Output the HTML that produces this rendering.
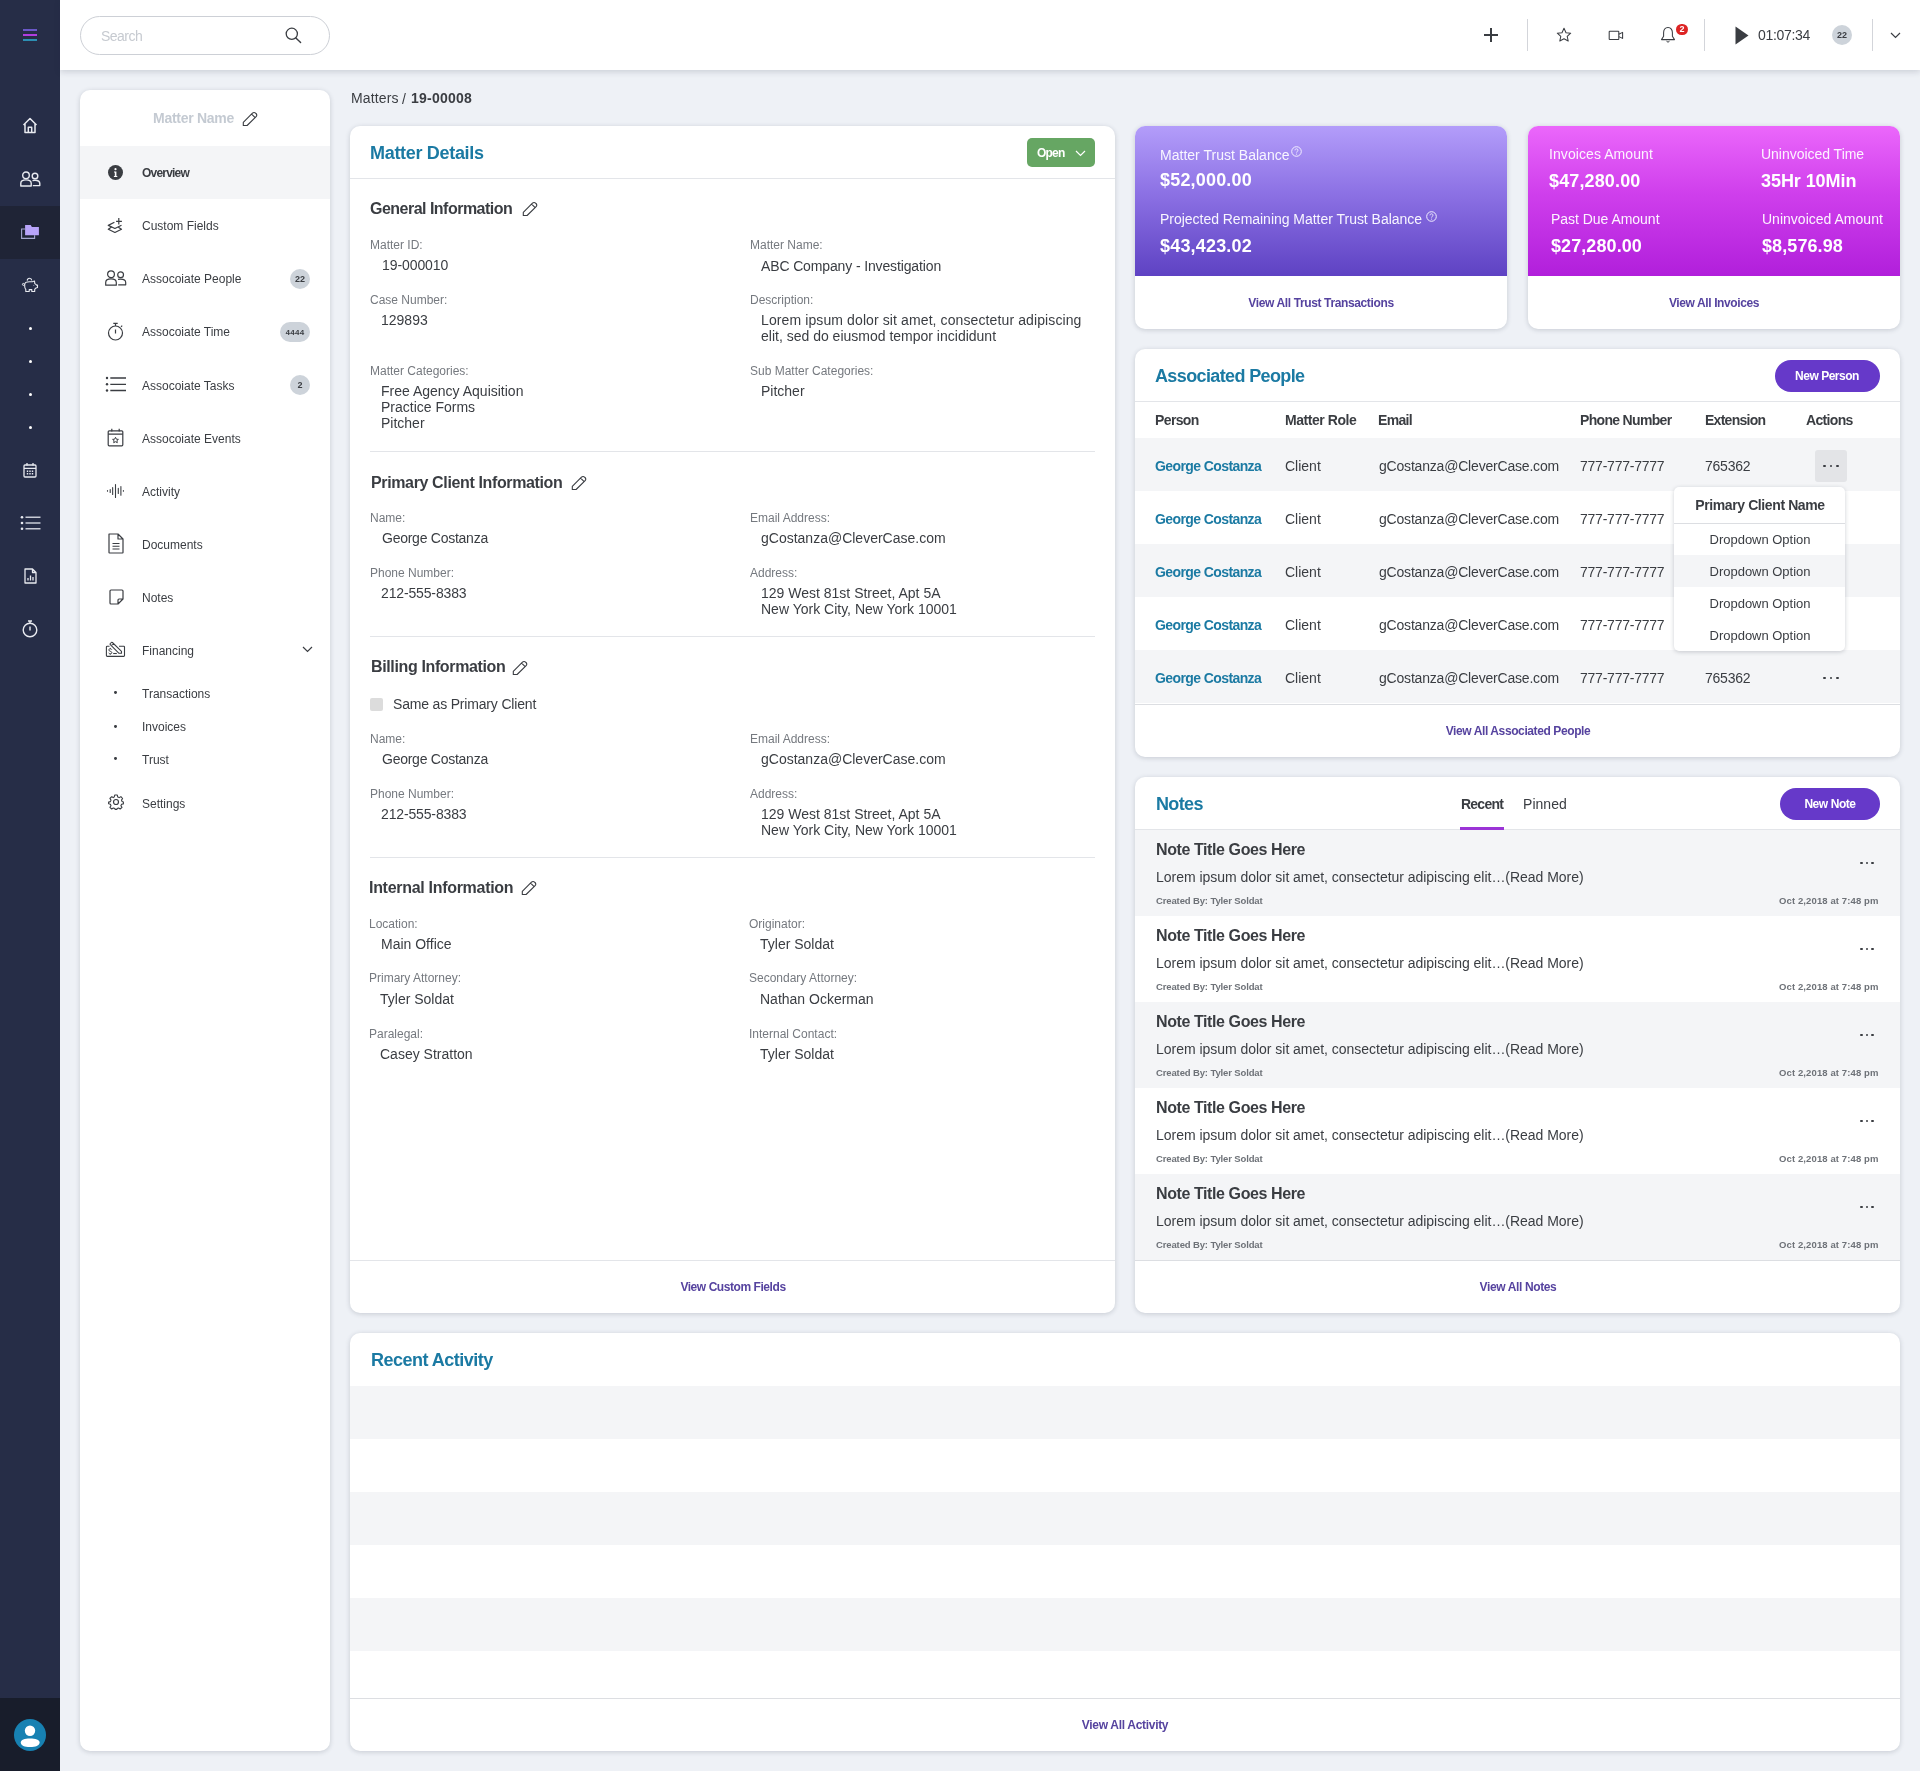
<!DOCTYPE html><html><head><meta charset="utf-8">
<style>
*{box-sizing:border-box;margin:0;padding:0}
html,body{width:1920px;height:1771px;overflow:hidden;background:#eef1f6;font-family:"Liberation Sans",sans-serif;color:#3a3d42}
.abs{position:absolute}
.card{position:absolute;background:#fff;border-radius:10px;box-shadow:0 1px 5px rgba(40,50,70,.2)}
.t{position:absolute;white-space:nowrap;line-height:1;will-change:transform}
body{-webkit-font-smoothing:antialiased}
</style></head><body>
<div class="abs" style="left:0px;top:0px;width:60px;height:1771px;background:#262d47;"></div>
<div class="abs" style="left:0px;top:206px;width:60px;height:53px;background:#1f2436;"></div>
<div class="abs" style="left:0px;top:1698px;width:60px;height:73px;background:#181d2b;"></div>
<div class="abs" style="left:23px;top:29px;width:14px;height:2px;background:#6a58c8;"></div>
<div class="abs" style="left:23px;top:34px;width:14px;height:2px;background:#b03ee0;"></div>
<div class="abs" style="left:23px;top:39px;width:14px;height:2px;background:#2c8fb3;"></div>
<svg class="abs" style="left:22px;top:117px;" width="16" height="17" viewBox="0 0 16 17" fill="none"><path d="M1.5 8 L8 1.5 L14.5 8 M3 6.8 V15.5 H13 V6.8 M6.3 15.5 V10.3 H9.7 V15.5" stroke="#e8eaf0" stroke-width="1.5" stroke-linejoin="round"></path></svg>
<svg class="abs" style="left:20px;top:171px;" width="21" height="16" viewBox="0 0 21 16" fill="none"><circle cx="6" cy="4.3" r="3.3" stroke="#e8eaf0" stroke-width="1.4"></circle><path d="M0.8 15 V12.3 C0.8 10.2 2.6 8.9 6 8.9 C9.4 8.9 11.2 10.2 11.2 12.3 V15 Z" stroke="#e8eaf0" stroke-width="1.4" stroke-linejoin="round"></path><circle cx="15" cy="5" r="2.8" stroke="#e8eaf0" stroke-width="1.4"></circle><path d="M12.5 9.6 C13.2 9.4 14 9.3 15 9.3 C18 9.3 19.8 10.4 19.8 12.5 V14.6 H12.8" stroke="#e8eaf0" stroke-width="1.4" stroke-linejoin="round"></path></svg>
<svg class="abs" style="left:20px;top:224px;" width="20" height="16" viewBox="0 0 20 16" fill="none"><path d="M5.1 5 H1.6 V14.4 H14.6 V11.2" stroke="#a3a6d0" stroke-width="1.1"></path><path d="M5.1 1.3 C5.1 1.2 5.2 1.1 5.3 1.1 H10.7 L11.9 3.1 H18.7 C18.8 3.1 18.9 3.2 18.9 3.3 V11 C18.9 11.1 18.8 11.2 18.7 11.2 H5.3 C5.2 11.2 5.1 11.1 5.1 11 Z" fill="#b8a4fa"></path></svg>
<svg class="abs" style="left:15px;top:270px;" width="30" height="30" viewBox="0 0 30 30" fill="none"><path d="M9.7 14.6 C9.7 12.9 11.6 11.7 14.5 11.7 H17.3 L19.5 11 L19.8 13.6 C20.6 14.1 21.2 14.6 21.6 15.1 H22.5 V17.5 L20.5 18.3 L19.7 19.3 V21.5 H16.8 V19.6 H14.2 V21.5 H10.8 V19.4 C10 18.6 9.7 17.6 9.7 16.2 Z" stroke="#e8eaf0" stroke-width="1.1" stroke-linejoin="round"></path><circle cx="8.4" cy="14.4" r="1" stroke="#e8eaf0" stroke-width="1"></circle><path d="M12.2 10.6 C12.4 9 13.4 8.3 14.5 8.3 C15.6 8.3 16.6 9 16.8 10.4" stroke="#e8eaf0" stroke-width="1.1"></path><path d="M18.2 15.4 H19.3" stroke="#9aa0b8" stroke-width="0.9"></path></svg>
<div class="abs" style="left:28.5px;top:327.0px;width:3px;height:3px;border-radius:50%;background:#fff"></div>
<div class="abs" style="left:28.5px;top:360.0px;width:3px;height:3px;border-radius:50%;background:#fff"></div>
<div class="abs" style="left:28.5px;top:393.0px;width:3px;height:3px;border-radius:50%;background:#fff"></div>
<div class="abs" style="left:28.5px;top:426.0px;width:3px;height:3px;border-radius:50%;background:#fff"></div>
<svg class="abs" style="left:23px;top:462px;" width="14" height="16" viewBox="0 0 14 16" fill="none"><rect x="1" y="3" width="12" height="12" rx="1" stroke="#e8eaf0" stroke-width="1.3"></rect><path d="M1 6.3 H13 M4 1 V3.5 M10 1 V3.5" stroke="#e8eaf0" stroke-width="1.3"></path><path d="M3.8 8.5h1.4v1.4H3.8zM6.3 8.5h1.4v1.4H6.3zM8.8 8.5h1.4v1.4H8.8zM3.8 11h1.4v1.4H3.8zM6.3 11h1.4v1.4H6.3zM8.8 11h1.4v1.4H8.8z" fill="#e8eaf0"></path></svg>
<svg class="abs" style="left:20px;top:515px;" width="21" height="16" viewBox="0 0 21 16" fill="none"><circle cx="2" cy="2.2" r="1.3" fill="#e8eaf0"></circle><circle cx="2" cy="8" r="1.3" fill="#e8eaf0"></circle><circle cx="2" cy="13.8" r="1.3" fill="#e8eaf0"></circle><path d="M5.5 2.2 H20.5 M5.5 8 H20.5 M5.5 13.8 H20.5" stroke="#c8cbd6" stroke-width="1.5"></path></svg>
<svg class="abs" style="left:24px;top:568px;" width="13" height="16" viewBox="0 0 13 16" fill="none"><path d="M1 1 H8.5 L12 4.5 V15 H1 Z M8.5 1 V4.5 H12" stroke="#e8eaf0" stroke-width="1.3" stroke-linejoin="round"></path><path d="M4 12.5 V10 M6.5 12.5 V7.5 M9 12.5 V9" stroke="#e8eaf0" stroke-width="1.3"></path></svg>
<svg class="abs" style="left:22px;top:620px;" width="16" height="18" viewBox="0 0 16 18" fill="none"><circle cx="8" cy="10" r="6.8" stroke="#e8eaf0" stroke-width="1.4"></circle><path d="M8 6.5 V10.5 M6 1 H10 M8 1 V3.2" stroke="#e8eaf0" stroke-width="1.4"></path></svg>
<div class="abs" style="left:14px;top:1719px;width:32px;height:32px;border-radius:50%;background:#1781b2"></div>
<svg class="abs" style="left:14px;top:1719px;" width="32" height="32" viewBox="0 0 32 32" fill="none"><circle cx="16" cy="11.8" r="5.2" fill="#fff"></circle><path d="M6.8 23.5 C6.8 20.8 10.5 19.6 16 19.6 C21.5 19.6 25.6 20.8 25.6 23.5 C25.6 26.6 21.5 28 16 28 C10.5 28 6.8 26.6 6.8 23.5 Z" fill="#fff"></path></svg>
<div class="abs" style="left:60px;top:0;width:1860px;height:70px;background:#fff;box-shadow:0 2px 6px rgba(30,40,60,.16)"></div>
<div class="abs" style="left:80px;top:16px;width:250px;height:39px;border:1px solid #cdd0d6;border-radius:20px;background:#fff"></div>
<div class="t" style="top: 29.15px; font-size: 14px; color: rgb(198, 202, 208); left: 101px; letter-spacing: -0.514px;">Search</div>
<svg class="abs" style="left:285px;top:27px;" width="17" height="17" viewBox="0 0 17 17" fill="none"><circle cx="6.8" cy="6.8" r="5.6" stroke="#3a3d42" stroke-width="1.3"></circle><path d="M10.9 10.9 L15.6 15.6" stroke="#3a3d42" stroke-width="1.4" stroke-linecap="round"></path></svg>
<svg class="abs" style="left:1483px;top:27px;" width="16" height="16" viewBox="0 0 16 16" fill="none"><path d="M8 1 V15 M1 8 H15" stroke="#3a3d42" stroke-width="2"></path></svg>
<div class="abs" style="left:1527px;top:19px;width:1px;height:32px;background:#d3d5da;"></div>
<svg class="abs" style="left:1556px;top:27px;" width="16" height="16" viewBox="0 0 16 16" fill="none"><path d="M8 1.3 L10 5.7 L14.7 6.2 L11.2 9.4 L12.2 14 L8 11.7 L3.8 14 L4.8 9.4 L1.3 6.2 L6 5.7 Z" stroke="#3a3d42" stroke-width="1.05" stroke-linejoin="round"></path></svg>
<svg class="abs" style="left:1608px;top:30px;" width="16" height="11" viewBox="0 0 16 11" fill="none"><rect x="1.2" y="1.2" width="9.6" height="8.3" rx="0.6" stroke="#3a3d42" stroke-width="1.05"></rect><path d="M10.8 4.2 L14.6 2.4 V8.4 L10.8 6.6" stroke="#3a3d42" stroke-width="1.05" stroke-linejoin="round"></path></svg>
<svg class="abs" style="left:1660px;top:26px;" width="16" height="18" viewBox="0 0 16 18" fill="none"><path d="M8 1.5 C5 1.5 3.6 4 3.6 6.8 V10.3 L1.5 13.6 H14.5 L12.4 10.3 V6.8 C12.4 4 11 1.5 8 1.5 Z" stroke="#3a3d42" stroke-width="1.05" stroke-linejoin="round"></path><path d="M6.5 15.2 L8 16.2 L9.5 15.2" stroke="#3a3d42" stroke-width="1"></path></svg>
<div class="abs" style="left:1676px;top:24px;width:12px;height:11px;border-radius:6px;background:#dd2424"></div>
<div class="t" style="top:25.38px;font-size:9px;color:#fff;font-weight:700;left:1682px;transform:translateX(-50%);">2</div>
<div class="abs" style="left:1704px;top:19px;width:1px;height:32px;background:#d3d5da;"></div>
<svg class="abs" style="left:1735px;top:26px;" width="14" height="19" viewBox="0 0 14 19" fill="none"><path d="M0.5 0.5 L13.5 9.5 L0.5 18.5 Z" fill="#3a3d42"></path></svg>
<div class="t" style="top: 28.15px; font-size: 14px; color: rgb(58, 61, 66); left: 1758px; letter-spacing: -0.316px;">01:07:34</div>
<div class="abs" style="left:1832px;top:25px;width:20px;height:20px;border-radius:50%;background:#cdd3da"></div>
<div class="t" style="top:30.88px;font-size:9px;color:#3a3d42;font-weight:700;left:1842px;transform:translateX(-50%);">22</div>
<div class="abs" style="left:1872px;top:19px;width:1px;height:32px;background:#d3d5da;"></div>
<svg class="abs" style="left:1890px;top:32px;" width="11" height="7" viewBox="0 0 11 7" fill="none"><path d="M1 1 L5.5 5.5 L10 1" stroke="#3a3d42" stroke-width="1.2"></path></svg>
<div class="card" style="left:80px;top:90px;width:250px;height:1661px"></div>
<div class="t" style="top: 111.15px; font-size: 14px; color: rgb(196, 202, 210); font-weight: 700; left: 153px; letter-spacing: -0.274px;">Matter Name</div>
<svg class="abs" style="left:242px;top:110.5px;" width="16" height="16" viewBox="0 0 16 16" fill="none"><path d="M1.3 14.5 V11.3 L10.2 2.4 Q12 0.6 13.8 2.3 L14 2.5 Q15.6 4.2 13.9 5.8 L5.1 14.5 Z M9.6 3.1 L12.9 6.4" stroke="#3a3d42" stroke-width="1.1" stroke-linejoin="round"></path></svg>
<div class="abs" style="left:80px;top:146px;width:250px;height:53px;background:#f4f5f7;"></div>
<div class="abs" style="left:107.5px;top:165px;width:15px;height:15px;border-radius:50%;background:#3a3d42"></div>
<svg class="abs" style="left:107.5px;top:165px;" width="15" height="15" viewBox="0 0 15 15" fill="none"><circle cx="7.5" cy="4.2" r="1.1" fill="#fff"></circle><path d="M6 6.6 H8.4 V11 H9.3 V12 H5.9 V11 H6.8 V7.6 H6 Z" fill="#fff"></path></svg>
<div class="t" style="top: 166.84px; font-size: 12px; color: rgb(58, 61, 66); font-weight: 700; left: 142px; letter-spacing: -0.79px;">Overview</div>
<div class="t" style="top:219.84px;font-size:12px;color:#3a3d42;left:142px;">Custom Fields</div>
<div class="t" style="top:272.84px;font-size:12px;color:#3a3d42;left:142px;">Assocoiate People</div>
<div class="t" style="top:326.24px;font-size:12px;color:#3a3d42;left:142px;">Assocoiate Time</div>
<div class="t" style="top:379.64px;font-size:12px;color:#3a3d42;left:142px;">Assocoiate Tasks</div>
<div class="t" style="top:432.84px;font-size:12px;color:#3a3d42;left:142px;">Assocoiate Events</div>
<div class="t" style="top:486.24px;font-size:12px;color:#3a3d42;left:142px;">Activity</div>
<div class="t" style="top:538.74px;font-size:12px;color:#3a3d42;left:142px;">Documents</div>
<div class="t" style="top:592.14px;font-size:12px;color:#3a3d42;left:142px;">Notes</div>
<div class="t" style="top:645.24px;font-size:12px;color:#3a3d42;left:142px;">Financing</div>
<div class="t" style="top:797.74px;font-size:12px;color:#3a3d42;left:142px;">Settings</div>
<div class="t" style="top:687.84px;font-size:12px;color:#3a3d42;left:142px;">Transactions</div>
<div class="abs" style="left:114.3px;top:691.3px;width:2.8px;height:2.8px;border-radius:50%;background:#3a3d42"></div>
<div class="t" style="top:721.34px;font-size:12px;color:#3a3d42;left:142px;">Invoices</div>
<div class="abs" style="left:114.3px;top:724.8px;width:2.8px;height:2.8px;border-radius:50%;background:#3a3d42"></div>
<div class="t" style="top:753.84px;font-size:12px;color:#3a3d42;left:142px;">Trust</div>
<div class="abs" style="left:114.3px;top:757.3px;width:2.8px;height:2.8px;border-radius:50%;background:#3a3d42"></div>
<svg class="abs" style="left:100px;top:210px;" width="30" height="30" viewBox="0 0 30 30" fill="none"><path d="M14.4 12.2 L8.3 15.4 L14.9 18.5 L21.5 15.3" stroke="#3a3d42" stroke-width="1.2" stroke-linejoin="round"></path><path d="M11.6 16.9 L8.3 19.3 L14.9 22.5 L21.5 19.3 L18.3 17.3" stroke="#3a3d42" stroke-width="1.2" stroke-linejoin="round"></path><path d="M18.8 8.1 V14.4 M16.1 11.4 H21.9" stroke="#3a3d42" stroke-width="1.2" stroke-linejoin="round"></path></svg>
<svg class="abs" style="left:105px;top:270.3px;" width="22" height="16" viewBox="0 0 22 16" fill="none"><circle cx="6" cy="4.2" r="3.4" stroke="#3a3d42" stroke-width="1.2"></circle><path d="M0.7 15.2 V12.4 C0.7 10.2 2.6 8.8 6 8.8 C9.4 8.8 11.3 10.2 11.3 12.4 V15.2 Z" stroke="#3a3d42" stroke-width="1.2" stroke-linejoin="round"></path><circle cx="15.6" cy="4.8" r="2.9" stroke="#3a3d42" stroke-width="1.2"></circle><path d="M13 9.4 C13.8 9.2 14.6 9.1 15.6 9.1 C18.8 9.1 20.7 10.3 20.7 12.4 V14.8 H13.2" stroke="#3a3d42" stroke-width="1.2" stroke-linejoin="round"></path></svg>
<svg class="abs" style="left:107px;top:322px;" width="17" height="19" viewBox="0 0 17 19" fill="none"><circle cx="8.5" cy="11" r="7" stroke="#3a3d42" stroke-width="1.2"></circle><path d="M8.5 7.5 V11.5 M6.3 1.3 H10.7 M8.5 1.3 V4 M14 4.8 L15.2 3.6" stroke="#3a3d42" stroke-width="1.2"></path></svg>
<svg class="abs" style="left:105px;top:376px;" width="22" height="17" viewBox="0 0 22 17" fill="none"><circle cx="2" cy="2" r="1.2" fill="#3a3d42"></circle><circle cx="2" cy="8.3" r="1.2" fill="#3a3d42"></circle><circle cx="2" cy="14.5" r="1.2" fill="#3a3d42"></circle><path d="M5.3 2 H21 M5.3 8.3 H21 M5.3 14.5 H21" stroke="#3a3d42" stroke-width="1.3"></path></svg>
<svg class="abs" style="left:107px;top:428px;" width="17" height="19" viewBox="0 0 17 19" fill="none"><rect x="1.2" y="2.8" width="14.6" height="15" rx="1" stroke="#3a3d42" stroke-width="1.2"></rect><path d="M1.2 6.2 H15.8 M4.8 0.8 V3.5 M12.2 0.8 V3.5" stroke="#3a3d42" stroke-width="1.2"></path><path d="M8.5 9.3 L9.4 11.2 L11.4 11.4 L9.9 12.7 L10.3 14.7 L8.5 13.7 L6.7 14.7 L7.1 12.7 L5.6 11.4 L7.6 11.2 Z" stroke="#3a3d42" stroke-width="1" stroke-linejoin="round"></path></svg>
<svg class="abs" style="left:100px;top:478px;" width="30" height="25" viewBox="0 0 30 25" fill="none"><path d="M7.5 12.5 V13.3 M10.2 11.6 V14.4 M12.65 9.5 V16.5 M15.5 6.6 V19.4 M18.3 10.4 V15.4 M20.9 8.5 V17.3 M23.4 12.5 V13.3" stroke="#3a3d42" stroke-width="1.1" stroke-linecap="round"></path></svg>
<svg class="abs" style="left:107.5px;top:533px;" width="16" height="21" viewBox="0 0 16 21" fill="none"><path d="M1 1 H10 L15 6 V19.5 C15 19.8 14.8 20 14.5 20 H1.5 C1.2 20 1 19.8 1 19.5 Z M10 1 V6 H15" stroke="#3a3d42" stroke-width="1.2" stroke-linejoin="round"></path><path d="M4.5 10.5 H11.5 M4.5 13.3 H11.5 M4.5 16 H11.5" stroke="#3a3d42" stroke-width="1.1"></path></svg>
<svg class="abs" style="left:108.5px;top:589px;" width="15" height="16" viewBox="0 0 15 16" fill="none"><path d="M1 2 C1 1.4 1.4 1 2 1 H13 C13.6 1 14 1.4 14 2 V10 L9 15 H2 C1.4 15 1 14.6 1 14 Z M14 10 H10 C9.4 10 9 10.4 9 11 V15" stroke="#3a3d42" stroke-width="1.2" stroke-linejoin="round"></path></svg>
<svg class="abs" style="left:100px;top:635px;" width="30" height="30" viewBox="0 0 30 30" fill="none"><path d="M9.5 11.3 H7.2 C6.7 11.3 6.4 11.6 6.4 12.1 V20.6 C6.4 21.1 6.7 21.4 7.2 21.4 H23.7 C24.2 21.4 24.5 21.1 24.5 20.6 V12.1 C24.5 11.6 24.2 11.3 23.7 11.3 H19" stroke="#3a3d42" stroke-width="1.1"></path><path d="M12.4 7.5 L21.5 16.4 V18.3 H19 L10.3 9.7 C9.9 9.3 9.9 8.9 10.3 8.5 L11.2 7.6 C11.5 7.2 12 7.2 12.4 7.5 Z M11 10.6 L13.9 8.9" stroke="#3a3d42" stroke-width="1.05" stroke-linejoin="round"></path><path d="M11.7 14.6 C11.5 14 11 13.8 10.3 13.8 C9.4 13.8 8.8 14.3 8.8 15 C8.8 16.6 11.9 16 11.9 17.7 C11.9 18.4 11.2 18.8 10.3 18.8 C9.5 18.8 9 18.5 8.7 18 M10.3 12.9 V13.8 M10.3 18.8 V19.6" stroke="#3a3d42" stroke-width="1"></path><path d="M13.2 18.5 H16.8" stroke="#3a3d42" stroke-width="1.1"></path></svg>
<svg class="abs" style="left:302px;top:646px;" width="11" height="7" viewBox="0 0 11 7" fill="none"><path d="M1 1 L5.5 5.5 L10 1" stroke="#3a3d42" stroke-width="1.2"></path></svg>
<svg class="abs" style="left:108px;top:794px;" width="16" height="16" viewBox="0 0 16 16" fill="none"><circle cx="8" cy="8" r="2.5" stroke="#3a3d42" stroke-width="1.2"></circle><path d="M6.7 1 H9.3 L9.7 2.9 L11.2 3.6 L12.9 2.6 L14.6 4.5 L13.5 6.1 L14.1 7.6 L15.4 8.1 V9.9 L13.6 10.2 L12.9 11.8 L14 13.4 L12.2 15 L10.6 14 L9.2 14.6 L8.8 15.4 H7.2 L6.8 14.6 L5.3 14 L3.7 15 L1.9 13.3 L3 11.7 L2.4 10.2 L0.6 9.8 V8.1 L2.4 7.6 L3 6.1 L1.9 4.5 L3.7 2.7 L5.3 3.6 L6.3 2.9 Z" stroke="#3a3d42" stroke-width="1.1" stroke-linejoin="round"></path></svg>
<div class="abs" style="left:290px;top:269px;width:20px;height:20px;border-radius:50%;background:#cdd3da"></div>
<div class="t" style="top:274.88px;font-size:9px;color:#3a3d42;font-weight:700;left:300px;transform:translateX(-50%);">22</div>
<div class="abs" style="left:280px;top:322px;width:30px;height:20px;border-radius:10px;background:#cdd3da"></div>
<div class="t" style="top: 328.73px; font-size: 8px; color: rgb(58, 61, 66); font-weight: 700; left: 295px; transform: translateX(-50%); letter-spacing: 0.351px;">4444</div>
<div class="abs" style="left:290px;top:375px;width:20px;height:20px;border-radius:50%;background:#cdd3da"></div>
<div class="t" style="top:380.88px;font-size:9px;color:#3a3d42;font-weight:700;left:300px;transform:translateX(-50%);">2</div>
<div class="t" style="top: 91.15px; font-size: 14px; color: rgb(58, 61, 66); left: 350.8px; letter-spacing: 0.137px;">Matters</div>
<div class="t" style="top:91.95px;font-size:14px;color:#3a3d42;left:401.8px;">/</div>

<div class="t" style="top: 91.15px; font-size: 14px; color: rgb(58, 61, 66); font-weight: 700; left: 411px; letter-spacing: 0.232px;">19-00008</div>
<div class="card" style="left:350px;top:126px;width:765px;height:1187px"></div>
<div class="t" style="top: 144.16px; font-size: 18px; color: rgb(27, 122, 163); font-weight: 700; left: 370px; letter-spacing: -0.31px;">Matter Details</div>
<div class="abs" style="left:350px;top:178px;width:765px;height:1px;background:#e3e5e9;"></div>
<div class="abs" style="left:1027px;top:138px;width:68px;height:29px;border-radius:5px;background:#66a663"></div>
<div class="t" style="top: 147.04px; font-size: 12px; color: rgb(255, 255, 255); font-weight: 700; left: 1037px; letter-spacing: -0.779px;">Open</div>
<svg class="abs" style="left:1075px;top:150px;" width="11" height="7" viewBox="0 0 11 7" fill="none"><path d="M1 1 L5.5 5.5 L10 1" stroke="#fff" stroke-width="1.2"></path></svg>
<div class="t" style="top: 201.16px; font-size: 16px; color: rgb(58, 61, 66); font-weight: 700; left: 370px; letter-spacing: -0.514px;">General Information</div>
<svg class="abs" style="left:522px;top:200.5px;" width="16" height="16" viewBox="0 0 16 16" fill="none"><path d="M1.3 14.5 V11.3 L10.2 2.4 Q12 0.6 13.8 2.3 L14 2.5 Q15.6 4.2 13.9 5.8 L5.1 14.5 Z M9.6 3.1 L12.9 6.4" stroke="#3a3d42" stroke-width="1.1" stroke-linejoin="round"></path></svg>
<div class="t" style="top:239.34px;font-size:12px;color:#75797f;left:370px;">Matter ID:</div>
<div class="t" style="top: 258.45px; font-size: 14px; color: rgb(58, 61, 66); left: 382px; letter-spacing: -0.083px;">19-000010</div>
<div class="t" style="top:293.84px;font-size:12px;color:#75797f;left:370px;">Case Number:</div>
<div class="t" style="top:313.15px;font-size:14px;color:#3a3d42;left:381px;">129893</div>
<div class="t" style="top:365.34px;font-size:12px;color:#75797f;left:370px;">Matter Categories:</div>
<div class="t" style="top:384.15px;font-size:14px;color:#3a3d42;left:381px;">Free Agency Aquisition</div>
<div class="t" style="top:400.15px;font-size:14px;color:#3a3d42;left:381px;">Practice Forms</div>
<div class="t" style="top:415.75px;font-size:14px;color:#3a3d42;left:381px;">Pitcher</div>
<div class="t" style="top:239.34px;font-size:12px;color:#75797f;left:750px;">Matter Name:</div>
<div class="t" style="top: 259.05px; font-size: 14px; color: rgb(58, 61, 66); left: 761px; letter-spacing: -0.133px;">ABC Company - Investigation</div>
<div class="t" style="top:294.44px;font-size:12px;color:#75797f;left:750px;">Description:</div>
<div class="t" style="top: 313.45px; font-size: 14px; color: rgb(58, 61, 66); left: 761px; letter-spacing: 0.107px;">Lorem ipsum dolor sit amet, consectetur adipiscing</div>
<div class="t" style="top:328.95px;font-size:14px;color:#3a3d42;left:761px;">elit, sed do eiusmod tempor incididunt</div>
<div class="t" style="top:365.24px;font-size:12px;color:#75797f;left:750px;">Sub Matter Categories:</div>
<div class="t" style="top:383.95px;font-size:14px;color:#3a3d42;left:761px;">Pitcher</div>
<div class="abs" style="left:370px;top:451px;width:725px;height:1px;background:#e3e5e9;"></div>
<div class="t" style="top: 474.56px; font-size: 16px; color: rgb(58, 61, 66); font-weight: 700; left: 370.8px; letter-spacing: -0.366px;">Primary Client Information</div>
<svg class="abs" style="left:570.5px;top:475px;" width="16" height="16" viewBox="0 0 16 16" fill="none"><path d="M1.3 14.5 V11.3 L10.2 2.4 Q12 0.6 13.8 2.3 L14 2.5 Q15.6 4.2 13.9 5.8 L5.1 14.5 Z M9.6 3.1 L12.9 6.4" stroke="#3a3d42" stroke-width="1.1" stroke-linejoin="round"></path></svg>
<div class="t" style="top:512.14px;font-size:12px;color:#75797f;left:370px;">Name:</div>
<div class="t" style="top: 531.15px; font-size: 14px; color: rgb(58, 61, 66); left: 382px; letter-spacing: -0.253px;">George Costanza</div>
<div class="t" style="top:567.14px;font-size:12px;color:#75797f;left:370px;">Phone Number:</div>
<div class="t" style="top: 585.75px; font-size: 14px; color: rgb(58, 61, 66); left: 381px; letter-spacing: -0.145px;">212-555-8383</div>
<div class="t" style="top:512.14px;font-size:12px;color:#75797f;left:750px;">Email Address:</div>
<div class="t" style="top:531.15px;font-size:14px;color:#3a3d42;left:761px;">gCostanza@CleverCase.com</div>
<div class="t" style="top:567.14px;font-size:12px;color:#75797f;left:750px;">Address:</div>
<div class="t" style="top:585.75px;font-size:14px;color:#3a3d42;left:761px;">129 West 81st Street, Apt 5A</div>
<div class="t" style="top:601.75px;font-size:14px;color:#3a3d42;left:761px;">New York City, New York 10001</div>
<div class="abs" style="left:370px;top:636px;width:725px;height:1px;background:#e3e5e9;"></div>
<div class="t" style="top: 658.76px; font-size: 16px; color: rgb(58, 61, 66); font-weight: 700; left: 370.5px; letter-spacing: -0.364px;">Billing Information</div>
<svg class="abs" style="left:512px;top:659.5px;" width="16" height="16" viewBox="0 0 16 16" fill="none"><path d="M1.3 14.5 V11.3 L10.2 2.4 Q12 0.6 13.8 2.3 L14 2.5 Q15.6 4.2 13.9 5.8 L5.1 14.5 Z M9.6 3.1 L12.9 6.4" stroke="#3a3d42" stroke-width="1.1" stroke-linejoin="round"></path></svg>
<div class="abs" style="left:370px;top:698px;width:13px;height:13px;border-radius:2px;background:#dcdcdc"></div>
<div class="t" style="top: 697.15px; font-size: 14px; color: rgb(58, 61, 66); left: 393.3px; letter-spacing: -0.179px;">Same as Primary Client</div>
<div class="t" style="top:732.84px;font-size:12px;color:#75797f;left:370px;">Name:</div>
<div class="t" style="top: 752.15px; font-size: 14px; color: rgb(58, 61, 66); left: 382px; letter-spacing: -0.253px;">George Costanza</div>
<div class="t" style="top:787.74px;font-size:12px;color:#75797f;left:370px;">Phone Number:</div>
<div class="t" style="top: 806.65px; font-size: 14px; color: rgb(58, 61, 66); left: 381px; letter-spacing: -0.145px;">212-555-8383</div>
<div class="t" style="top:732.84px;font-size:12px;color:#75797f;left:750px;">Email Address:</div>
<div class="t" style="top:752.15px;font-size:14px;color:#3a3d42;left:761px;">gCostanza@CleverCase.com</div>
<div class="t" style="top:787.74px;font-size:12px;color:#75797f;left:750px;">Address:</div>
<div class="t" style="top:806.65px;font-size:14px;color:#3a3d42;left:761px;">129 West 81st Street, Apt 5A</div>
<div class="t" style="top:822.65px;font-size:14px;color:#3a3d42;left:761px;">New York City, New York 10001</div>
<div class="abs" style="left:370px;top:857px;width:725px;height:1px;background:#e3e5e9;"></div>
<div class="t" style="top: 880.16px; font-size: 16px; color: rgb(58, 61, 66); font-weight: 700; left: 369px; letter-spacing: -0.298px;">Internal Information</div>
<svg class="abs" style="left:521px;top:879.5px;" width="16" height="16" viewBox="0 0 16 16" fill="none"><path d="M1.3 14.5 V11.3 L10.2 2.4 Q12 0.6 13.8 2.3 L14 2.5 Q15.6 4.2 13.9 5.8 L5.1 14.5 Z M9.6 3.1 L12.9 6.4" stroke="#3a3d42" stroke-width="1.1" stroke-linejoin="round"></path></svg>
<div class="t" style="top:917.84px;font-size:12px;color:#75797f;left:369px;">Location:</div>
<div class="t" style="top:936.65px;font-size:14px;color:#3a3d42;left:381px;">Main Office</div>
<div class="t" style="top:972.44px;font-size:12px;color:#75797f;left:369px;">Primary Attorney:</div>
<div class="t" style="top:992.15px;font-size:14px;color:#3a3d42;left:380px;">Tyler Soldat</div>
<div class="t" style="top:1027.64px;font-size:12px;color:#75797f;left:369px;">Paralegal:</div>
<div class="t" style="top:1046.95px;font-size:14px;color:#3a3d42;left:380px;">Casey Stratton</div>
<div class="t" style="top:917.84px;font-size:12px;color:#75797f;left:749px;">Originator:</div>
<div class="t" style="top:936.65px;font-size:14px;color:#3a3d42;left:760px;">Tyler Soldat</div>
<div class="t" style="top:972.44px;font-size:12px;color:#75797f;left:749px;">Secondary Attorney:</div>
<div class="t" style="top:992.15px;font-size:14px;color:#3a3d42;left:760px;">Nathan Ockerman</div>
<div class="t" style="top:1027.64px;font-size:12px;color:#75797f;left:749px;">Internal Contact:</div>
<div class="t" style="top:1046.95px;font-size:14px;color:#3a3d42;left:760px;">Tyler Soldat</div>
<div class="abs" style="left:350px;top:1260px;width:765px;height:1px;background:#e3e5e9;"></div>
<div class="t" style="top: 1280.74px; font-size: 12px; color: rgb(86, 67, 159); font-weight: 700; left: 732.6px; transform: translateX(-50%); letter-spacing: -0.439px;">View Custom Fields</div>
<div class="card" style="left:1135px;top:126px;width:372px;height:203px;overflow:hidden"><div class="abs" style="left:0;top:0;width:372px;height:150px;background:linear-gradient(180deg,#b39dfa 0%,#8c71e4 45%,#5e42c3 100%)"></div></div>
<div class="t" style="top: 147.55px; font-size: 14px; color: rgb(248, 246, 255); left: 1160px; letter-spacing: 0.019px;">Matter Trust Balance</div>
<svg class="abs" style="left:1291px;top:146px;" width="11" height="11" viewBox="0 0 11 11" fill="none"><circle cx="5.5" cy="5.5" r="4.8" stroke="#f3efff" stroke-width="1"></circle><path d="M4 4.3 C4 3.4 4.7 2.8 5.5 2.8 C6.3 2.8 7 3.4 7 4.2 C7 5.3 5.6 5.4 5.6 6.6" stroke="#f3efff" stroke-width="0.9" fill="none"></path><circle cx="5.6" cy="8.1" r="0.55" fill="#f3efff"></circle></svg>
<div class="t" style="top: 171.26px; font-size: 18px; color: rgb(255, 255, 255); font-weight: 700; left: 1160px; letter-spacing: 0.18px;">$52,000.00</div>
<div class="t" style="top: 212.15px; font-size: 14px; color: rgb(248, 246, 255); left: 1160px; letter-spacing: -0.025px;">Projected Remaining Matter Trust Balance</div>
<svg class="abs" style="left:1426px;top:211px;" width="11" height="11" viewBox="0 0 11 11" fill="none"><circle cx="5.5" cy="5.5" r="4.8" stroke="#f3efff" stroke-width="1"></circle><path d="M4 4.3 C4 3.4 4.7 2.8 5.5 2.8 C6.3 2.8 7 3.4 7 4.2 C7 5.3 5.6 5.4 5.6 6.6" stroke="#f3efff" stroke-width="0.9" fill="none"></path><circle cx="5.6" cy="8.1" r="0.55" fill="#f3efff"></circle></svg>
<div class="t" style="top: 237.06px; font-size: 18px; color: rgb(255, 255, 255); font-weight: 700; left: 1160px; letter-spacing: 0.18px;">$43,423.02</div>
<div class="t" style="top: 296.74px; font-size: 12px; color: rgb(86, 67, 159); font-weight: 700; left: 1320.8px; transform: translateX(-50%); letter-spacing: -0.371px;">View All Trust Transactions</div>
<div class="card" style="left:1528px;top:126px;width:372px;height:203px;overflow:hidden"><div class="abs" style="left:0;top:0;width:372px;height:150px;background:linear-gradient(180deg,#eb67fb 0%,#cf3fec 45%,#b11fdb 100%)"></div></div>
<div class="t" style="top: 147.15px; font-size: 14px; color: rgb(253, 243, 255); left: 1549px; letter-spacing: 0.078px;">Invoices Amount</div>
<div class="t" style="top: 171.76px; font-size: 18px; color: rgb(255, 255, 255); font-weight: 700; left: 1549px; letter-spacing: 0.136px;">$47,280.00</div>
<div class="t" style="top: 147.15px; font-size: 14px; color: rgb(253, 243, 255); left: 1760.6px; letter-spacing: -0.025px;">Uninvoiced Time</div>
<div class="t" style="top: 171.76px; font-size: 18px; color: rgb(255, 255, 255); font-weight: 700; left: 1760.6px; letter-spacing: -0.071px;">35Hr 10Min</div>
<div class="t" style="top: 212.45px; font-size: 14px; color: rgb(253, 243, 255); left: 1550.6px; letter-spacing: -0.031px;">Past Due Amount</div>
<div class="t" style="top: 236.76px; font-size: 18px; color: rgb(255, 255, 255); font-weight: 700; left: 1550.6px; letter-spacing: 0.08px;">$27,280.00</div>
<div class="t" style="top: 212.45px; font-size: 14px; color: rgb(253, 243, 255); left: 1761.5px; letter-spacing: 0.012px;">Uninvoiced Amount</div>
<div class="t" style="top: 236.76px; font-size: 18px; color: rgb(255, 255, 255); font-weight: 700; left: 1761.5px; letter-spacing: 0.092px;">$8,576.98</div>
<div class="t" style="top: 296.84px; font-size: 12px; color: rgb(86, 67, 159); font-weight: 700; left: 1713.7px; transform: translateX(-50%); letter-spacing: -0.38px;">View All Invoices</div>
<div class="card" style="left:1135px;top:349px;width:765px;height:408px;overflow:hidden"></div>
<div class="t" style="top: 367.06px; font-size: 18px; color: rgb(27, 122, 163); font-weight: 700; left: 1155.4px; letter-spacing: -0.628px;">Associated People</div>
<div class="abs" style="left:1775px;top:360px;width:105px;height:32px;border-radius:16px;background:#6639c9"></div>
<div class="t" style="top: 370.44px; font-size: 12px; color: rgb(255, 255, 255); font-weight: 700; left: 1827.4px; transform: translateX(-50%); letter-spacing: -0.484px;">New Person</div>
<div class="abs" style="left:1135px;top:401px;width:765px;height:1px;background:#e3e5e9;"></div>
<div class="t" style="top: 413.15px; font-size: 14px; color: rgb(58, 61, 66); font-weight: 700; left: 1155.4px; letter-spacing: -0.622px;">Person</div>
<div class="t" style="top: 413.15px; font-size: 14px; color: rgb(58, 61, 66); font-weight: 700; left: 1284.6px; letter-spacing: -0.445px;">Matter Role</div>
<div class="t" style="top: 413.15px; font-size: 14px; color: rgb(58, 61, 66); font-weight: 700; left: 1377.5px; letter-spacing: -0.678px;">Email</div>
<div class="t" style="top: 413.15px; font-size: 14px; color: rgb(58, 61, 66); font-weight: 700; left: 1579.6px; letter-spacing: -0.674px;">Phone Number</div>
<div class="t" style="top: 413.15px; font-size: 14px; color: rgb(58, 61, 66); font-weight: 700; left: 1704.75px; letter-spacing: -0.731px;">Extension</div>
<div class="t" style="top: 413.15px; font-size: 14px; color: rgb(58, 61, 66); font-weight: 700; left: 1806.3px; letter-spacing: -0.675px;">Actions</div>
<div class="abs" style="left:1135px;top:438px;width:765px;height:53px;background:#f4f5f7;"></div>
<div class="t" style="top: 459.15px; font-size: 14px; color: rgb(27, 122, 163); font-weight: 700; left: 1155.4px; letter-spacing: -0.597px;">George Costanza</div>
<div class="t" style="top:459.15px;font-size:14px;color:#3a3d42;left:1284.6px;">Client</div>
<div class="t" style="top: 459.15px; font-size: 14px; color: rgb(58, 61, 66); left: 1378.5px; letter-spacing: -0.194px;">gCostanza@CleverCase.com</div>
<div class="t" style="top: 459.15px; font-size: 14px; color: rgb(58, 61, 66); left: 1579.6px; letter-spacing: -0.236px;">777-777-7777</div>
<div class="t" style="top: 459.15px; font-size: 14px; color: rgb(58, 61, 66); left: 1704.75px; letter-spacing: -0.236px;">765362</div>
<div class="t" style="top: 512.15px; font-size: 14px; color: rgb(27, 122, 163); font-weight: 700; left: 1155.4px; letter-spacing: -0.597px;">George Costanza</div>
<div class="t" style="top:512.15px;font-size:14px;color:#3a3d42;left:1284.6px;">Client</div>
<div class="t" style="top: 512.15px; font-size: 14px; color: rgb(58, 61, 66); left: 1378.5px; letter-spacing: -0.194px;">gCostanza@CleverCase.com</div>
<div class="t" style="top: 512.15px; font-size: 14px; color: rgb(58, 61, 66); left: 1579.6px; letter-spacing: -0.236px;">777-777-7777</div>
<div class="abs" style="left:1135px;top:544px;width:765px;height:53px;background:#f4f5f7;"></div>
<div class="t" style="top: 565.15px; font-size: 14px; color: rgb(27, 122, 163); font-weight: 700; left: 1155.4px; letter-spacing: -0.597px;">George Costanza</div>
<div class="t" style="top:565.15px;font-size:14px;color:#3a3d42;left:1284.6px;">Client</div>
<div class="t" style="top: 565.15px; font-size: 14px; color: rgb(58, 61, 66); left: 1378.5px; letter-spacing: -0.194px;">gCostanza@CleverCase.com</div>
<div class="t" style="top: 565.15px; font-size: 14px; color: rgb(58, 61, 66); left: 1579.6px; letter-spacing: -0.236px;">777-777-7777</div>
<div class="t" style="top: 618.15px; font-size: 14px; color: rgb(27, 122, 163); font-weight: 700; left: 1155.4px; letter-spacing: -0.597px;">George Costanza</div>
<div class="t" style="top:618.15px;font-size:14px;color:#3a3d42;left:1284.6px;">Client</div>
<div class="t" style="top: 618.15px; font-size: 14px; color: rgb(58, 61, 66); left: 1378.5px; letter-spacing: -0.194px;">gCostanza@CleverCase.com</div>
<div class="t" style="top: 618.15px; font-size: 14px; color: rgb(58, 61, 66); left: 1579.6px; letter-spacing: -0.236px;">777-777-7777</div>
<div class="abs" style="left:1135px;top:650px;width:765px;height:53px;background:#f4f5f7;"></div>
<div class="t" style="top: 671.15px; font-size: 14px; color: rgb(27, 122, 163); font-weight: 700; left: 1155.4px; letter-spacing: -0.597px;">George Costanza</div>
<div class="t" style="top:671.15px;font-size:14px;color:#3a3d42;left:1284.6px;">Client</div>
<div class="t" style="top: 671.15px; font-size: 14px; color: rgb(58, 61, 66); left: 1378.5px; letter-spacing: -0.194px;">gCostanza@CleverCase.com</div>
<div class="t" style="top: 671.15px; font-size: 14px; color: rgb(58, 61, 66); left: 1579.6px; letter-spacing: -0.236px;">777-777-7777</div>
<div class="t" style="top: 671.15px; font-size: 14px; color: rgb(58, 61, 66); left: 1704.75px; letter-spacing: -0.236px;">765362</div>
<div class="abs" style="left:1135px;top:703.5px;width:765px;height:1px;background:#dcdee2;"></div>
<div class="abs" style="left:1815px;top:450px;width:32px;height:32px;border-radius:3px;background:#e3e4e7"></div>
<div class="abs" style="left:1823.4px;top:464.9px;width:2.2px;height:2.2px;border-radius:50%;background:#3a3d42"></div>
<div class="abs" style="left:1829.9px;top:464.9px;width:2.2px;height:2.2px;border-radius:50%;background:#3a3d42"></div>
<div class="abs" style="left:1836.4px;top:464.9px;width:2.2px;height:2.2px;border-radius:50%;background:#3a3d42"></div>
<div class="abs" style="left:1823.4px;top:676.9px;width:2.2px;height:2.2px;border-radius:50%;background:#3a3d42"></div>
<div class="abs" style="left:1829.9px;top:676.9px;width:2.2px;height:2.2px;border-radius:50%;background:#3a3d42"></div>
<div class="abs" style="left:1836.4px;top:676.9px;width:2.2px;height:2.2px;border-radius:50%;background:#3a3d42"></div>
<div class="abs" style="left:1674px;top:487px;width:171px;height:164px;border-radius:5px;background:#fff;box-shadow:0 1px 4px rgba(30,40,60,.22);overflow:hidden"></div>
<div class="t" style="top: 498.45px; font-size: 14px; color: rgb(58, 61, 66); font-weight: 700; left: 1759.5px; transform: translateX(-50%); letter-spacing: -0.398px;">Primary Client Name</div>
<div class="abs" style="left:1674px;top:523px;width:171px;height:1px;background:#dcdee2;"></div>
<div class="abs" style="left:1674px;top:555px;width:171px;height:32px;background:#f4f5f7;"></div>
<div class="t" style="top: 533px; font-size: 13px; color: rgb(58, 61, 66); left: 1759.5px; transform: translateX(-50%); letter-spacing: -0.024px;">Dropdown Option</div>
<div class="t" style="top: 565.2px; font-size: 13px; color: rgb(58, 61, 66); left: 1759.5px; transform: translateX(-50%); letter-spacing: -0.024px;">Dropdown Option</div>
<div class="t" style="top: 597.3px; font-size: 13px; color: rgb(58, 61, 66); left: 1759.5px; transform: translateX(-50%); letter-spacing: -0.024px;">Dropdown Option</div>
<div class="t" style="top: 629px; font-size: 13px; color: rgb(58, 61, 66); left: 1759.5px; transform: translateX(-50%); letter-spacing: -0.024px;">Dropdown Option</div>
<div class="t" style="top: 724.54px; font-size: 12px; color: rgb(86, 67, 159); font-weight: 700; left: 1517.6px; transform: translateX(-50%); letter-spacing: -0.398px;">View All Associated People</div>
<div class="card" style="left:1135px;top:777px;width:765px;height:536px;overflow:hidden"></div>
<div class="t" style="top: 795.06px; font-size: 18px; color: rgb(27, 122, 163); font-weight: 700; left: 1155.5px; letter-spacing: -0.625px;">Notes</div>
<div class="t" style="top: 797.15px; font-size: 14px; color: rgb(58, 61, 66); font-weight: 700; left: 1460.5px; letter-spacing: -0.764px;">Recent</div>
<div class="t" style="top: 797.15px; font-size: 14px; color: rgb(58, 61, 66); left: 1523px; letter-spacing: 0.039px;">Pinned</div>
<div class="abs" style="left:1780px;top:788px;width:100px;height:32px;border-radius:16px;background:#6639c9"></div>
<div class="t" style="top: 798.44px; font-size: 12px; color: rgb(255, 255, 255); font-weight: 700; left: 1830px; transform: translateX(-50%); letter-spacing: -0.429px;">New Note</div>
<div class="abs" style="left:1135px;top:829px;width:765px;height:1px;background:#e3e5e9;"></div>
<div class="abs" style="left:1460px;top:827px;width:44px;height:3px;background:#9b34d6;"></div>
<div class="abs" style="left:1135px;top:830px;width:765px;height:86px;background:#f4f5f7;"></div>
<div class="t" style="top: 841.66px; font-size: 16px; color: rgb(58, 61, 66); font-weight: 700; left: 1155.5px; letter-spacing: -0.405px;">Note Title Goes Here</div>
<div class="t" style="top: 870.45px; font-size: 14px; color: rgb(58, 61, 66); left: 1155.5px; letter-spacing: -0.028px;">Lorem ipsum dolor sit amet, consectetur adipiscing elit…(Read More)</div>
<div class="t" style="top: 895.86px; font-size: 9.5px; color: rgb(110, 114, 120); font-weight: 700; left: 1155.5px; letter-spacing: -0.129px;">Created By: Tyler Soldat</div>
<div class="t" style="top: 895.86px; font-size: 9.5px; color: rgb(110, 114, 120); font-weight: 700; right: 41px; letter-spacing: 0.114px;">Oct 2,2018 at 7:48 pm</div>
<div class="abs" style="left:1860.4px;top:861.5px;width:2.2px;height:2.2px;border-radius:50%;background:#3a3d42"></div>
<div class="abs" style="left:1865.9px;top:861.5px;width:2.2px;height:2.2px;border-radius:50%;background:#3a3d42"></div>
<div class="abs" style="left:1871.4px;top:861.5px;width:2.2px;height:2.2px;border-radius:50%;background:#3a3d42"></div>
<div class="t" style="top: 927.66px; font-size: 16px; color: rgb(58, 61, 66); font-weight: 700; left: 1155.5px; letter-spacing: -0.405px;">Note Title Goes Here</div>
<div class="t" style="top: 956.45px; font-size: 14px; color: rgb(58, 61, 66); left: 1155.5px; letter-spacing: -0.028px;">Lorem ipsum dolor sit amet, consectetur adipiscing elit…(Read More)</div>
<div class="t" style="top: 981.86px; font-size: 9.5px; color: rgb(110, 114, 120); font-weight: 700; left: 1155.5px; letter-spacing: -0.129px;">Created By: Tyler Soldat</div>
<div class="t" style="top: 981.86px; font-size: 9.5px; color: rgb(110, 114, 120); font-weight: 700; right: 41px; letter-spacing: 0.114px;">Oct 2,2018 at 7:48 pm</div>
<div class="abs" style="left:1860.4px;top:947.5px;width:2.2px;height:2.2px;border-radius:50%;background:#3a3d42"></div>
<div class="abs" style="left:1865.9px;top:947.5px;width:2.2px;height:2.2px;border-radius:50%;background:#3a3d42"></div>
<div class="abs" style="left:1871.4px;top:947.5px;width:2.2px;height:2.2px;border-radius:50%;background:#3a3d42"></div>
<div class="abs" style="left:1135px;top:1002px;width:765px;height:86px;background:#f4f5f7;"></div>
<div class="t" style="top: 1013.66px; font-size: 16px; color: rgb(58, 61, 66); font-weight: 700; left: 1155.5px; letter-spacing: -0.405px;">Note Title Goes Here</div>
<div class="t" style="top: 1042.45px; font-size: 14px; color: rgb(58, 61, 66); left: 1155.5px; letter-spacing: -0.028px;">Lorem ipsum dolor sit amet, consectetur adipiscing elit…(Read More)</div>
<div class="t" style="top: 1067.86px; font-size: 9.5px; color: rgb(110, 114, 120); font-weight: 700; left: 1155.5px; letter-spacing: -0.129px;">Created By: Tyler Soldat</div>
<div class="t" style="top: 1067.86px; font-size: 9.5px; color: rgb(110, 114, 120); font-weight: 700; right: 41px; letter-spacing: 0.114px;">Oct 2,2018 at 7:48 pm</div>
<div class="abs" style="left:1860.4px;top:1033.5px;width:2.2px;height:2.2px;border-radius:50%;background:#3a3d42"></div>
<div class="abs" style="left:1865.9px;top:1033.5px;width:2.2px;height:2.2px;border-radius:50%;background:#3a3d42"></div>
<div class="abs" style="left:1871.4px;top:1033.5px;width:2.2px;height:2.2px;border-radius:50%;background:#3a3d42"></div>
<div class="t" style="top: 1099.66px; font-size: 16px; color: rgb(58, 61, 66); font-weight: 700; left: 1155.5px; letter-spacing: -0.405px;">Note Title Goes Here</div>
<div class="t" style="top: 1128.45px; font-size: 14px; color: rgb(58, 61, 66); left: 1155.5px; letter-spacing: -0.028px;">Lorem ipsum dolor sit amet, consectetur adipiscing elit…(Read More)</div>
<div class="t" style="top: 1153.86px; font-size: 9.5px; color: rgb(110, 114, 120); font-weight: 700; left: 1155.5px; letter-spacing: -0.129px;">Created By: Tyler Soldat</div>
<div class="t" style="top: 1153.86px; font-size: 9.5px; color: rgb(110, 114, 120); font-weight: 700; right: 41px; letter-spacing: 0.114px;">Oct 2,2018 at 7:48 pm</div>
<div class="abs" style="left:1860.4px;top:1119.5px;width:2.2px;height:2.2px;border-radius:50%;background:#3a3d42"></div>
<div class="abs" style="left:1865.9px;top:1119.5px;width:2.2px;height:2.2px;border-radius:50%;background:#3a3d42"></div>
<div class="abs" style="left:1871.4px;top:1119.5px;width:2.2px;height:2.2px;border-radius:50%;background:#3a3d42"></div>
<div class="abs" style="left:1135px;top:1174px;width:765px;height:86px;background:#f4f5f7;"></div>
<div class="t" style="top: 1185.66px; font-size: 16px; color: rgb(58, 61, 66); font-weight: 700; left: 1155.5px; letter-spacing: -0.405px;">Note Title Goes Here</div>
<div class="t" style="top: 1214.45px; font-size: 14px; color: rgb(58, 61, 66); left: 1155.5px; letter-spacing: -0.028px;">Lorem ipsum dolor sit amet, consectetur adipiscing elit…(Read More)</div>
<div class="t" style="top: 1239.86px; font-size: 9.5px; color: rgb(110, 114, 120); font-weight: 700; left: 1155.5px; letter-spacing: -0.129px;">Created By: Tyler Soldat</div>
<div class="t" style="top: 1239.86px; font-size: 9.5px; color: rgb(110, 114, 120); font-weight: 700; right: 41px; letter-spacing: 0.114px;">Oct 2,2018 at 7:48 pm</div>
<div class="abs" style="left:1860.4px;top:1205.5px;width:2.2px;height:2.2px;border-radius:50%;background:#3a3d42"></div>
<div class="abs" style="left:1865.9px;top:1205.5px;width:2.2px;height:2.2px;border-radius:50%;background:#3a3d42"></div>
<div class="abs" style="left:1871.4px;top:1205.5px;width:2.2px;height:2.2px;border-radius:50%;background:#3a3d42"></div>
<div class="abs" style="left:1135px;top:1260px;width:765px;height:1px;background:#dcdee2;"></div>
<div class="t" style="top: 1281.24px; font-size: 12px; color: rgb(86, 67, 159); font-weight: 700; left: 1517.5px; transform: translateX(-50%); letter-spacing: -0.369px;">View All Notes</div>
<div class="card" style="left:350px;top:1333px;width:1550px;height:418px;overflow:hidden"></div>
<div class="t" style="top: 1350.76px; font-size: 18px; color: rgb(27, 122, 163); font-weight: 700; left: 370.5px; letter-spacing: -0.502px;">Recent Activity</div>
<div class="abs" style="left:350px;top:1385.5px;width:1550px;height:1px;background:#e3e5e9;"></div>
<div class="abs" style="left:350px;top:1386px;width:1550px;height:53px;background:#f4f5f7;"></div>
<div class="abs" style="left:350px;top:1492px;width:1550px;height:53px;background:#f4f5f7;"></div>
<div class="abs" style="left:350px;top:1598px;width:1550px;height:53px;background:#f4f5f7;"></div>
<div class="abs" style="left:350px;top:1698px;width:1550px;height:1px;background:#dcdee2;"></div>
<div class="t" style="top: 1718.84px; font-size: 12px; color: rgb(86, 67, 159); font-weight: 700; left: 1125px; transform: translateX(-50%); letter-spacing: -0.3px;">View All Activity</div>

</body></html>
